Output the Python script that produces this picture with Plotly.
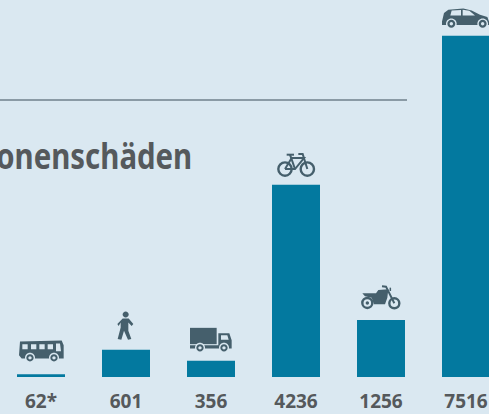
import plotly.graph_objects as go

categories = ["Bus", "Fußgänger", "Lkw", "Fahrrad", "Motorrad", "Pkw"]
values = [62, 601, 356, 4236, 1256, 7516]
tick_labels = ["62*", "601", "356", "4236", "1256", "7516"]
title_text = "Personenschäden"

W, H = 489, 414
BAR = "#03799f"
BG = "#dae8f1"
ICON = "#455f6c"
TEXT = "#55595c"
BASE = 377
PX_PER_UNIT = 0.0454
SPACING = 85
FIRST = 41

fig = go.Figure(go.Bar(x=list(range(6)), y=values, width=48 / SPACING,
                       marker=dict(color=BAR, line_width=0), hovertext=categories))

shapes = []


def pt(x, y, o):
    """zoomed-crop coordinates -> pixels relative to anchor (y up)."""
    return (x - o[0]) / 3, (o[1] - y) / 3


def poly(points, o):
    return "M" + " L".join("%.2f,%.2f" % pt(x, y, o) for x, y in points) + " Z"


def line(points, o):
    return "M" + " L".join("%.2f,%.2f" % pt(x, y, o) for x, y in points)


def circ(cx, cy, r, o):
    x, y = pt(cx, cy, o)
    r = r / 3
    k = 0.5523 * r
    return ("M%.2f,%.2f C%.2f,%.2f %.2f,%.2f %.2f,%.2f C%.2f,%.2f %.2f,%.2f %.2f,%.2f "
            "C%.2f,%.2f %.2f,%.2f %.2f,%.2f C%.2f,%.2f %.2f,%.2f %.2f,%.2f Z") % (
        x - r, y,
        x - r, y + k, x - k, y + r, x, y + r,
        x + k, y + r, x + r, y + k, x + r, y,
        x + r, y - k, x + k, y - r, x, y - r,
        x - k, y - r, x - r, y - k, x - r, y)


def add(i, path, fill=ICON, stroke=None, width=0):
    shapes.append(dict(type="path", path=path, xref="x", yref="y",
                       xsizemode="pixel", ysizemode="pixel",
                       xanchor=i, yanchor=values[i],
                       fillcolor=fill if fill else "rgba(0,0,0,0)",
                       line=dict(color=stroke or "rgba(0,0,0,0)", width=width)))


def wheel(i, cx, cy, o, gap=15, outer=11, hub=5):
    add(i, circ(cx, cy, gap, o), fill=BG)
    add(i, circ(cx, cy, outer, o) + " " + circ(cx, cy, hub, o))


# Bus (zoom 1)
o = (123, 282)
add(0, poly([(60, 184), (185, 181), (191, 195), (191, 235), (65, 235), (57, 225)], o)
    + " " + " ".join(poly([(a, 192), (a + 16, 192), (a + 16, 207), (a, 207)], o) for a in (67, 93, 118, 143))
    + " " + poly([(168, 190), (180, 190), (183, 213), (168, 213)], o))
wheel(0, 90, 233, o)
wheel(0, 162, 233, o)

# Pedestrian (zoom 1)
o = (378, 207)
add(1, circ(377, 101, 9, o))
add(1, poly([(352, 130), (368, 113), (386, 113), (400, 130), (395, 136), (385, 125), (385, 150),
             (394, 175), (384, 177), (372, 150), (364, 177), (353, 175), (362, 140), (362, 125), (356, 136)], o))

# Truck (zoom 1)
o = (633, 240)
add(2, poly([(570, 141), (650, 141), (650, 190), (570, 190)], o))
add(2, poly([(655, 157), (688, 157), (695, 178), (695, 203), (570, 203), (570, 193), (655, 193)], o)
    + " " + poly([(663, 163), (682, 163), (686, 177), (663, 177)], o))
wheel(2, 600, 201, o)
wheel(2, 672, 201, o)

# Bicycle (zoom 2)
o = (138, 132)
add(3, circ(105, 85, 20, o), fill=None, stroke=ICON, width=2.4)
add(3, circ(172, 85, 20, o), fill=None, stroke=ICON, width=2.4)
add(3, line([(105, 85), (125, 52), (162, 52), (135, 85), (105, 85)], o), fill=None, stroke=ICON, width=2)
add(3, line([(110, 42), (132, 42)], o), fill=None, stroke=ICON, width=2)
add(3, line([(120, 42), (135, 85)], o), fill=None, stroke=ICON, width=2)
add(3, line([(145, 40), (158, 40), (172, 85)], o), fill=None, stroke=ICON, width=2)

# Motorcycle (zoom 2)
o = (393, 537)
add(4, circ(352, 486, 15, o), fill=None, stroke=ICON, width=2.4)
add(4, circ(433, 487, 15, o), fill=None, stroke=ICON, width=2.4)
add(4, circ(352, 486, 5, o))
add(4, poly([(337, 457), (378, 457), (385, 447), (415, 445), (412, 470), (405, 490), (372, 490),
             (365, 470), (345, 466)], o))
add(4, line([(396, 436), (408, 437), (433, 487)], o), fill=None, stroke=ICON, width=2)
add(4, line([(421, 440), (421, 450)], o), fill=None, stroke=ICON, width=1.5)

# Car (zoom 3)
o = (258, 108)
add(5, poly([(186, 65), (192, 40), (205, 30), (250, 26), (275, 32), (300, 45), (322, 52), (327, 65),
             (327, 76), (186, 76)], o)
    + " " + poly([(215, 32), (243, 31), (243, 47), (211, 47)], o)
    + " " + poly([(248, 30), (268, 33), (285, 47), (248, 47)], o))
wheel(5, 214, 72, o, gap=16, outer=12, hub=5)
wheel(5, 308, 72, o, gap=16, outer=12, hub=5)

# Rule
plot_h = BASE
shapes.append(dict(type="line", xref="paper", yref="paper", x0=0, x1=407 / W,
                   y0=(plot_h - 100) / plot_h, y1=(plot_h - 100) / plot_h,
                   line=dict(color="#6f818b", width=1.5)))

fig.update_layout(
    width=W, height=H, margin=dict(l=0, r=0, t=0, b=H - BASE, autoexpand=False),
    paper_bgcolor=BG, plot_bgcolor=BG, showlegend=False, shapes=shapes,
    xaxis=dict(range=[-FIRST / SPACING, (W - FIRST) / SPACING], tickmode="array",
               tickvals=list(range(6)), ticktext=tick_labels, ticks="", showgrid=False,
               zeroline=False, showline=False, ticklabelstandoff=11,
               tickfont=dict(family="Noto Sans", size=19, color=TEXT, weight=700)),
    yaxis=dict(range=[0, BASE / PX_PER_UNIT], visible=False, showgrid=False, zeroline=False),
    annotations=[dict(text=title_text, xref="paper", yref="paper", x=194 / W, y=(plot_h - 155) / plot_h,
                      xanchor="right", yanchor="middle", showarrow=False, align="right",
                      font=dict(family="Noto Sans", size=35, color=TEXT, weight=700))],
)
squeeze = ("document.querySelectorAll('.annotation-text').forEach(function(e){"
           "e.style.transformBox='fill-box';e.style.transformOrigin='right center';"
           "e.style.transform='scaleX(0.84)';});")
fig.write_html("out.html", config=dict(displayModeBar=False),
               post_script="document.body.style.margin='0';document.documentElement.style.overflow='hidden';" + squeeze)
